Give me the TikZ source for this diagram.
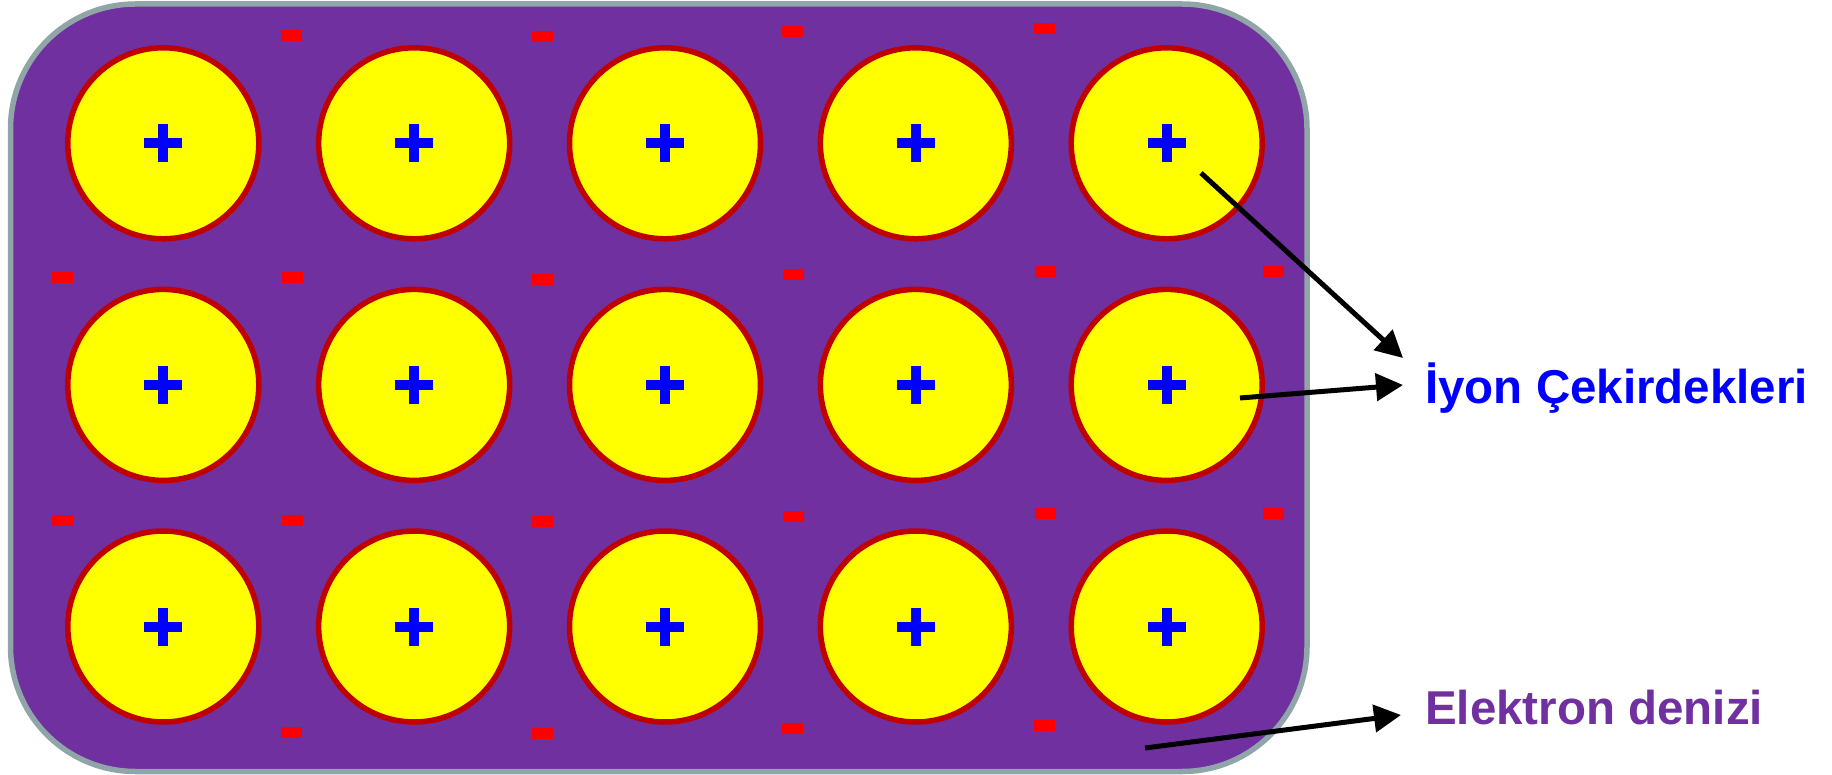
\documentclass[tikz,border=0pt]{standalone}
\usepackage{fontspec}
\setmainfont{Liberation Sans}
\usetikzlibrary{arrows.meta,calc}
\definecolor{seapurple}{HTML}{7030A0}
\definecolor{rimgray}{HTML}{8FA5A8}
\definecolor{ionrim}{HTML}{C00000}
\definecolor{ionfill}{HTML}{FFFF00}
\definecolor{plusblue}{HTML}{0000FF}
\definecolor{minusred}{HTML}{FF0000}
\tikzset{
  seabox/.style={draw=rimgray, fill=seapurple, line width=5.5pt, rounded corners=125pt, inner sep=0pt},
  ion/.style={circle, draw=ionrim, fill=ionfill, line width=5.5pt, minimum size=191pt, inner sep=0pt},
  electron/.style={rectangle, fill=minusred, minimum width=21pt, minimum height=11pt, inner sep=0pt, outer sep=0pt},
  pointer/.style={draw=black, line width=5pt, -{Triangle[length=27pt,width=27pt]}},
  lbl/.style={font=\fontsize{47.5pt}{57pt}\selectfont\bfseries, inner sep=0pt, anchor=base west}
}
\begin{document}
\begin{tikzpicture}[x=1pt,y=-1pt]
\useasboundingbox (0,0) rectangle (1832,775);
\node[seabox, minimum width=1296.5pt, minimum height=767.5pt] (sea) at (658.75,387.75) {};
\foreach \r in {1,2,3} {
  \foreach \c in {1,...,5} {
    \node[ion] (c\r\c) at ({163.3+250.85*(\c-1)},{143.3+241.6*(\r-1)}) {};
    \fill[plusblue] ($(c\r\c)+(-19,-5)$) rectangle ($(c\r\c)+(19,5)$);
    \fill[plusblue] ($(c\r\c)+(-5,-19)$) rectangle ($(c\r\c)+(5,19)$);
  }
}
\foreach \x/\y [count=\i] in {
  291/35.5, 542/36.5, 792/31.5, 1044.5/28.5,
  62/278, 292/278, 542/279.5, 793/274.5, 1045.5/271.5, 1273.5/271.5,
  62/520, 292/520, 542/521.5, 793/516.5, 1045.5/513.5, 1273.5/513.5,
  291/732.5, 542/733.5, 792/728.5, 1044.5/725.5} {
  \node[electron] (e\i) at (\x,\y) {};
}
\coordinate (p1s) at (1201,173);
\coordinate (p1e) at (1403,358);
\coordinate (p2s) at (1240,398);
\coordinate (p2e) at (1403,385);
\coordinate (p3s) at (1145,748);
\coordinate (p3e) at (1401,715);
\draw[pointer] (p1s) -- (p1e);
\draw[pointer] (p2s) -- (p2e);
\draw[pointer] (p3s) -- (p3e);
\node[lbl, text=plusblue] (lion) at (1425,403.3) {İyon Çekirdekleri};
\node[lbl, text=seapurple] (lsea) at (1425,724) {Elektron denizi};
\end{tikzpicture}
\end{document}
